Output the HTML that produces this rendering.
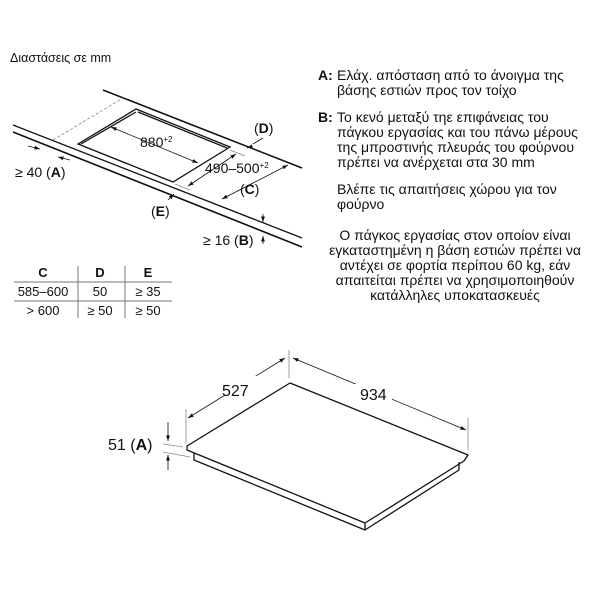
<!DOCTYPE html>
<html><head><meta charset="utf-8"><style>
body{margin:0;background:#fff;width:600px;height:600px;overflow:hidden;font-family:"Liberation Sans",sans-serif;color:#111}
svg{position:absolute;left:0;top:0}
.t{position:absolute;font-size:14px;line-height:15px;white-space:nowrap}
</style></head><body>
<svg width="600" height="600" viewBox="0 0 600 600" font-family="Liberation Sans, sans-serif" font-size="12.5" fill="#111">
<defs><marker id="a" viewBox="0 0 10 10" refX="10" refY="5" markerWidth="7" markerHeight="7" orient="auto-start-reverse"><path d="M0,1.5L10,5L0,8.5z" fill="#111"/></marker></defs>
<text x="10" y="62">Διαστάσεις σε mm</text>
<g stroke="#111" fill="none" stroke-width="1.3">
<line x1="103" y1="90" x2="302" y2="168" stroke-width="1.6"/>
<line x1="13" y1="125" x2="302" y2="238"/>
<line x1="13" y1="132" x2="302" y2="247" stroke-width="1.6"/>
<path d="M136,109L230,147L173,182L78,144Z"/>
<path d="M138,112L227,148"/>
<path d="M81,144L136,112"/>
</g>
<g stroke="#888" stroke-width="0.8" fill="none">
<line x1="53" y1="140" x2="123" y2="98" stroke-dasharray="3,2"/>
<line x1="230" y1="150" x2="245" y2="156"/>
<line x1="175" y1="184" x2="190" y2="190"/>
</g>
<g stroke="#111" stroke-width="0.8" fill="none">
<line x1="111" y1="127" x2="198" y2="163" marker-start="url(#a)" marker-end="url(#a)"/>
<line x1="188" y1="186" x2="236" y2="154" marker-start="url(#a)" marker-end="url(#a)"/>
<line x1="222" y1="199" x2="288" y2="165" marker-start="url(#a)" marker-end="url(#a)"/>
<line x1="253" y1="144" x2="263" y2="138"/><line x1="250" y1="147" x2="247" y2="148" marker-end="url(#a)"/>
<line x1="28" y1="146" x2="40" y2="149" marker-end="url(#a)"/>
<line x1="70" y1="160" x2="58" y2="157" marker-end="url(#a)"/>
<line x1="168" y1="200" x2="174" y2="194" marker-end="url(#a)"/>
<line x1="263" y1="214" x2="263" y2="222" marker-end="url(#a)"/>
<line x1="263" y1="244" x2="263" y2="236" marker-end="url(#a)"/>
</g>
<text x="140" y="147" font-size="14">880<tspan font-size="8" dy="-5">+2</tspan></text>
<text x="205" y="173" font-size="14">490–500<tspan font-size="8" dy="-5">+2</tspan></text>
<text x="254" y="133" font-size="14">(<tspan font-weight="bold">D</tspan>)</text>
<text x="240" y="194" font-size="14">(<tspan font-weight="bold">C</tspan>)</text>
<text x="151" y="216" font-size="14">(<tspan font-weight="bold">E</tspan>)</text>
<text x="203" y="245" font-size="14">≥ 16 (<tspan font-weight="bold">B</tspan>)</text>
<text x="15" y="177" font-size="14">≥ 40 (<tspan font-weight="bold">A</tspan>)</text>
<g font-size="13" text-anchor="middle">
<text x="43" y="277" font-weight="bold">C</text><text x="100" y="277" font-weight="bold">D</text><text x="148" y="277" font-weight="bold">E</text>
<text x="43" y="296">585–600</text><text x="100" y="296">50</text><text x="148" y="296">≥ 35</text>
<text x="43" y="315">&gt; 600</text><text x="100" y="315">≥ 50</text><text x="148" y="315">≥ 50</text>
</g>
<g stroke="#777" stroke-width="1"><line x1="14" y1="282" x2="172" y2="282"/><line x1="14" y1="301" x2="172" y2="301"/><line x1="78" y1="266" x2="78" y2="318"/><line x1="125" y1="266" x2="125" y2="318"/></g>
<g stroke="#111" fill="none" stroke-width="1.3" stroke-linejoin="round">
<path d="M290,383L468,455L464,461L365,523L187,450L187,446Z"/>
<path d="M194,453L194,460L365,530L459,470L459,462"/>
<path d="M365,523L365,530"/>
</g>
<g stroke="#888" stroke-width="0.8">
<line x1="289" y1="350" x2="289" y2="378"/>
<line x1="186" y1="409" x2="186" y2="443"/>
<line x1="468" y1="418" x2="468" y2="450"/>
<line x1="163" y1="444" x2="183" y2="447"/>
<line x1="163" y1="452" x2="190" y2="457"/>
</g>
<g stroke="#111" stroke-width="0.8" fill="none">
<line x1="188" y1="418" x2="285" y2="358" marker-start="url(#a)" marker-end="url(#a)"/>
<line x1="293" y1="358" x2="466" y2="430" marker-start="url(#a)" marker-end="url(#a)"/>
<line x1="168" y1="422" x2="168" y2="441" marker-end="url(#a)"/>
<line x1="168" y1="470" x2="168" y2="455" marker-end="url(#a)"/>
</g>
<rect x="225" y="376" width="42" height="20" fill="#fff"/>
<rect x="350" y="384" width="42" height="20" fill="#fff"/>
<text x="222" y="396" font-size="16">527</text>
<text x="360" y="400" font-size="16">934</text>
<text x="108" y="450" font-size="16">51 (<tspan font-weight="bold">A</tspan>)</text>
</svg>
<div class="t" style="left:318px;top:68px"><b>A:</b></div>
<div class="t" style="left:337px;top:68px">Ελάχ. απόσταση από το άνοιγμα της<br>βάσης εστιών προς τον τοίχο</div>
<div class="t" style="left:318px;top:110px"><b>B:</b></div>
<div class="t" style="left:337px;top:110px">Το κενό μεταξύ τηε επιφάνειας του<br>πάγκου εργασίας και του πάνω μέρους<br>της μπροστινής πλευράς του φούρνου<br>πρέπει να ανέρχεται στα 30 mm</div>
<div class="t" style="left:337px;top:182px">Βλέπε τις απαιτήσεις χώρου για τον<br>φούρνο</div>
<div class="t" style="left:312px;top:228px;width:286px;text-align:center">Ο πάγκος εργασίας στον οποίον είναι<br>εγκαταστημένη η βάση εστιών πρέπει να<br>αντέχει σε φορτία περίπου 60 kg, εάν<br>απαιτείται πρέπει να χρησιμοποιηθούν<br>κατάλληλες υποκατασκευές</div>
</body></html>
